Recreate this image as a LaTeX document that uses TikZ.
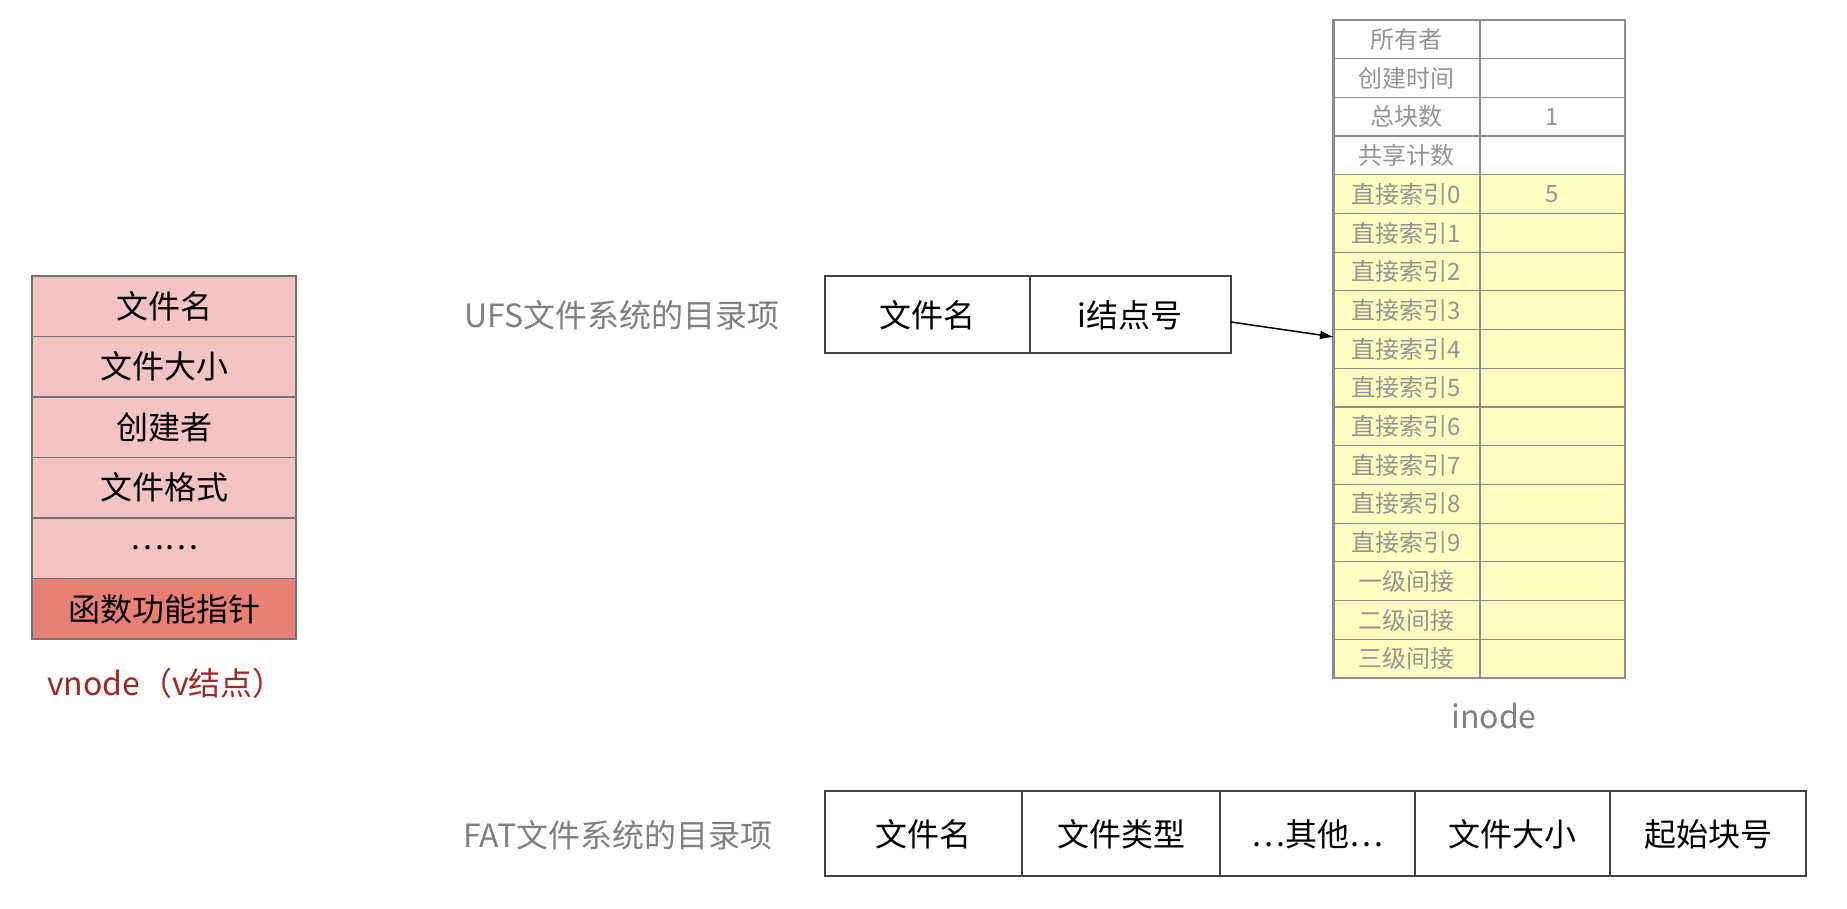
\documentclass[tikz,border=0pt]{standalone}
\usepackage{fontspec}
\usetikzlibrary{arrows.meta}
\setmainfont{Noto Sans CJK SC}
\definecolor{vpink}{RGB}{244,196,194}
\definecolor{vred}{RGB}{232,128,118}
\definecolor{vtext}{RGB}{160,40,35}
\definecolor{iyel}{RGB}{255,255,192}
\begin{document}
\begin{tikzpicture}[x=1pt,y=-1pt,
  big/.style={font=\fontsize{32}{36}\selectfont},
  small/.style={font=\fontsize{24}{28}\selectfont,text=black!42}]
\useasboundingbox[fill=white] (0,0) rectangle (1847,909);
% vnode
\foreach \t [count=\i from 0] in {文件名,文件大小,创建者,文件格式,……} {
  \path[draw=black!55,fill=vpink,line width=1.2pt] (32,276+60.5*\i) rectangle (296,276+60.5*\i+60.5);
  \node[big] (v\i) at (164,306+60.5*\i) {\t};
}
\path[draw=black!55,fill=vred,line width=1.2pt] (32,578.5) rectangle (296,639);
\node[big] (v5) at (164,609) {函数功能指针};
\node[big,text=vtext] (vl) at (166,683) {vnode（v结点）};
% UFS
\node[big,text=black!50] (ul) at (622,315) {UFS文件系统的目录项};
\draw[black!75,line width=1.2pt] (825,276) rectangle (1231,353) (1030,276) -- (1030,353);
\node[big] (u1) at (927,315) {文件名};
\node[big] (u2) at (1130,315) {i结点号};
% inode table
\foreach \t/\v [count=\i from 0] in {所有者/,创建时间/,总块数/1,共享计数/,直接索引0/5,直接索引1/,直接索引2/,直接索引3/,直接索引4/,直接索引5/,直接索引6/,直接索引7/,直接索引8/,直接索引9/,一级间接/,二级间接/,三级间接/} {
  \ifnum\i<4 \colorlet{fc}{white}\else\colorlet{fc}{iyel}\fi
  \path[draw=black!45,fill=fc,line width=1.2pt] (1333,20+38.7*\i) rectangle (1480,20+38.7*\i+38.7);
  \path[draw=black!45,fill=fc,line width=1.2pt] (1480,20+38.7*\i) rectangle (1625,20+38.7*\i+38.7);
  \node[small] (k\i) at (1406.5,39.4+38.7*\i) {\t};
  \node[small] (w\i) at (1552.5,39.4+38.7*\i) {\v};
}
\draw[black!45,line width=2.5pt] (1334,20) -- (1334,678);
\coordinate (tin) at (1334,337);
\coordinate (tout) at (1231,322);
\draw[-{Latex[length=14pt,width=9pt]},line width=1.5pt] (tout) -- (tin);
\node[big,text=black!50] (il) at (1494,716) {inode};
% FAT
\node[big,text=black!50] (fl) at (618,835) {FAT文件系统的目录项};
\draw[black!75,line width=1.2pt] (825,791) rectangle (1806,876);
\foreach \x in {1022,1220,1415,1610} \draw[black!75,line width=1.2pt] (\x,791) -- (\x,876);
\node[big] (f1) at (923,834) {文件名};
\node[big] (f2) at (1121,834) {文件类型};
\node[big] (f3) at (1317,834) {…其他…};
\node[big] (f4) at (1512,834) {文件大小};
\node[big] (f5) at (1708,834) {起始块号};
\end{tikzpicture}
\end{document}
